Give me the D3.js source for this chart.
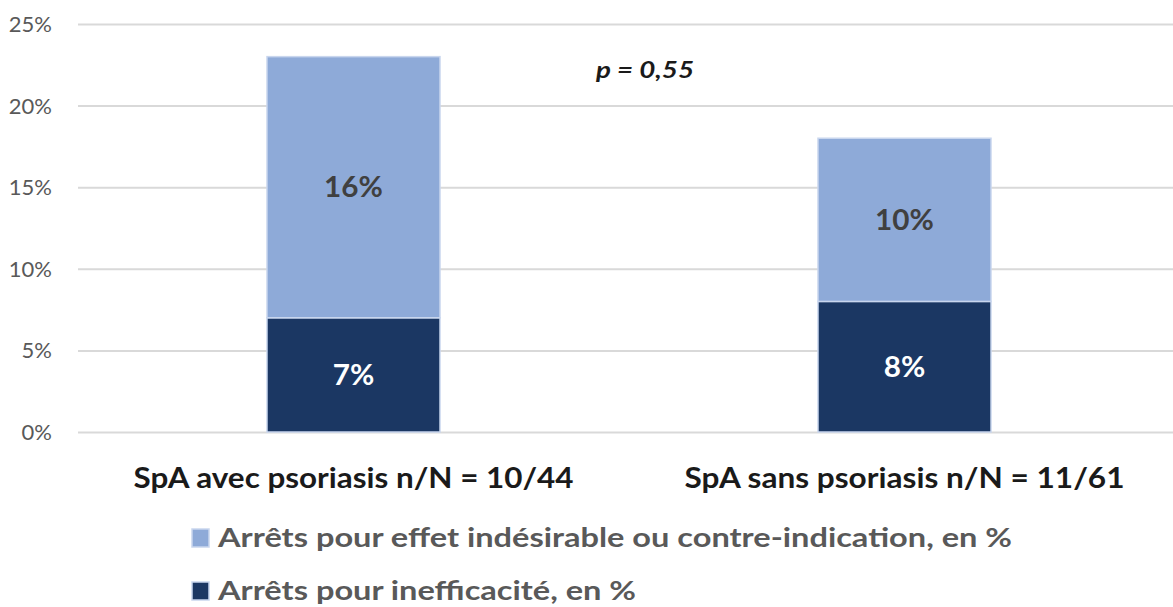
<!DOCTYPE html>
<html>
<head>
<meta charset="utf-8">
<script src="https://cdn.jsdelivr.net/npm/d3@7"></script>
<style>
  body { margin: 0; background: #fff; }
  svg { display: block; font-family: Lato, "Open Sans", sans-serif; }
</style>
</head>
<body>
<div id="chart"></div>
<script>
// data
var categories = ["SpA avec psoriasis n/N = 10/44", "SpA sans psoriasis n/N = 11/61"];
var seriesNames = ["Arrêts pour inefficacité, en %", "Arrêts pour effet indésirable ou contre-indication, en %"];
var inefficacite = [7, 8];
var effetIndesirable = [16, 10];
var yTicks = [0, 5, 10, 15, 20, 25];
var pValue = "p = 0,55";

var W = 1173, H = 607;
var colors = ["#1b3763", "#8eaad8"];
var labelColors = ["#ffffff", "#404040"];

// the original text is a bit wider than Lato, stretch it to the measured widths
function fit(sel, width) {
  sel.attr("textLength", width).attr("lengthAdjust", "spacingAndGlyphs");
}

var svg = d3.select("#chart").append("svg")
    .attr("width", W)
    .attr("height", H);

var x = d3.scaleBand()
    .domain(categories)
    .range([78, 1180])
    .paddingInner(0.686)
    .paddingOuter(0.343);

var y = d3.scaleLinear()
    .domain([0, 25])
    .range([432, 24]);

// grid lines
svg.selectAll(".grid")
  .data(yTicks)
  .enter().append("line")
  .attr("class", "grid")
  .attr("x1", 78)
  .attr("x2", W)
  .attr("y1", function(d) { return y(d) + 0.5; })
  .attr("y2", function(d) { return y(d) + 0.5; })
  .style("stroke", "#d9d9d9")
  .style("stroke-width", 2);

// y tick labels
svg.selectAll(".ylabel")
  .data(yTicks)
  .enter().append("text")
  .attr("class", "ylabel")
  .attr("x", 52)
  .attr("y", function(d) { return y(d); })
  .attr("dy", "0.36em")
  .attr("text-anchor", "end")
  .style("font-size", "22px")
  .style("fill", "#595959")
  .text(function(d) { return d + "%"; });

// stack the two series
var rows = categories.map(function(c, i) {
  return { cat: c, s0: inefficacite[i], s1: effetIndesirable[i] };
});
var stacked = d3.stack().keys(["s0", "s1"])(rows);

var layers = svg.selectAll(".layer")
  .data(stacked)
  .enter().append("g")
  .attr("class", "layer");

layers.selectAll("rect")
  .data(function(d) { return d.map(function(p) { p.idx = d.index; return p; }); })
  .enter().append("rect")
  .attr("x", function(d) { return x(d.data.cat); })
  .attr("y", function(d) { return y(d[1]); })
  .attr("width", x.bandwidth())
  .attr("height", function(d) { return y(d[0]) - y(d[1]); })
  .style("fill", function(d) { return colors[d.idx]; })
  .style("stroke", "#c9d6ee")
  .style("stroke-width", 1.5);

layers.selectAll(".dlabel")
  .data(function(d) { return d; })
  .enter().append("text")
  .attr("class", "dlabel")
  .attr("x", function(d) { return x(d.data.cat) + x.bandwidth() / 2; })
  .attr("y", function(d) { return (y(d[0]) + y(d[1])) / 2; })
  .attr("dy", "0.36em")
  .attr("text-anchor", "middle")
  .style("font-size", "28px")
  .style("font-weight", "bold")
  .style("fill", function(d) { return labelColors[d.idx]; })
  .text(function(d) { return (d[1] - d[0]) + "%"; })
  .each(function(d) {
    var t = d3.select(this);
    fit(t, this.getComputedTextLength() * 1.06);
  });

// category labels
svg.selectAll(".xlabel")
  .data(categories)
  .enter().append("text")
  .attr("class", "xlabel")
  .attr("x", function(d) { return x(d) + x.bandwidth() / 2; })
  .attr("y", 488)
  .attr("text-anchor", "middle")
  .style("font-size", "29px")
  .style("font-weight", "bold")
  .style("fill", "#1a1a1a")
  .call(fit, 440)
  .text(function(d) { return d; });

// p value
svg.append("text")
  .attr("x", 645)
  .attr("y", 78)
  .attr("text-anchor", "middle")
  .style("font-size", "23px")
  .style("font-weight", "bold")
  .style("font-style", "italic")
  .style("fill", "#1a1a1a")
  .call(fit, 98)
  .text(pValue);

// legend (light series first, like the picture)
var legendItems = [
  { name: seriesNames[1], color: colors[1], y: 547, w: 794 },
  { name: seriesNames[0], color: colors[0], y: 600, w: 418 }
];
var lg = svg.selectAll(".legend")
  .data(legendItems)
  .enter().append("g")
  .attr("class", "legend")
  .attr("transform", function(d) { return "translate(192," + d.y + ")"; });

lg.append("rect")
  .attr("x", 0)
  .attr("y", -18)
  .attr("width", 17)
  .attr("height", 18)
  .style("fill", function(d) { return d.color; })
  .style("stroke", "#c9d6ee")
  .style("stroke-width", 1.5);

lg.append("text")
  .attr("x", 26)
  .attr("y", 0)
  .style("font-size", "27px")
  .style("font-weight", "bold")
  .style("fill", "#595959")
  .each(function(d) { fit(d3.select(this), d.w); })
  .text(function(d) { return d.name; });
</script>
</body>
</html>
